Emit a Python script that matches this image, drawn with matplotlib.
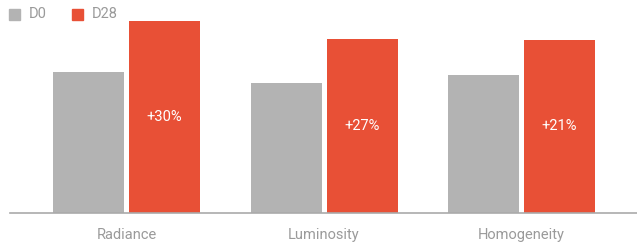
import matplotlib.pyplot as plt
import numpy as np

categories = ["Radiance", "Luminosity", "Homogeneity"]
d0 = [141, 130, 138]
d28 = [192, 174, 173]
gains = ["+30%", "+27%", "+21%"]

GRAY = "#b3b3b3"
RED = "#e85036"
TXT = "#9a9a9a"

plt.rcParams['font.family'] = ['Roboto', 'DejaVu Sans']

fig = plt.figure(figsize=(6.37, 2.45), dpi=100)
ax = fig.add_axes([10 / 637, 32 / 245, 627 / 637, 213 / 245])

x = np.arange(len(categories))
w = 71 / 197.5
off = 38 / 197.5
ax.bar(x - off, d0, w, color=GRAY)
bars = ax.bar(x + off, d28, w, color=RED)

for b, g in zip(bars, gains):
    ax.text(b.get_x() + b.get_width() / 2, b.get_height() / 2, g,
            ha='center', va='center', color='white', fontsize=10.5)

ax.set_xlim(-116.5 / 197.5, 510.5 / 197.5)
ax.set_ylim(0, 213)
for s in ['top', 'right', 'left']:
    ax.spines[s].set_visible(False)
ax.spines['bottom'].set_color('#aaaaaa')
ax.spines['bottom'].set_linewidth(1.2)
ax.set_yticks([])
ax.set_xticks(x)
ax.set_xticklabels(categories, color=TXT, fontsize=10.5)
ax.tick_params(axis='x', length=0, pad=11)

# legend
fig.patches.append(plt.Rectangle((9 / 637, 1 - 20 / 245), 11 / 637, 11 / 245,
                                 transform=fig.transFigure, color=GRAY))
fig.text(29 / 637, 1 - 14.5 / 245, "D0", color=TXT, fontsize=10.5, va='center')
fig.patches.append(plt.Rectangle((72 / 637, 1 - 20 / 245), 11 / 637, 11 / 245,
                                 transform=fig.transFigure, color=RED))
fig.text(92 / 637, 1 - 14.5 / 245, "D28", color=TXT, fontsize=10.5, va='center')

fig.savefig("out.png", dpi=100)
